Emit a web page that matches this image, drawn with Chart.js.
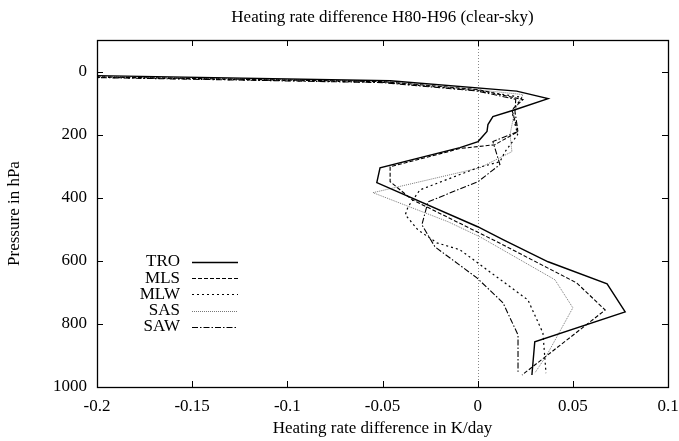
<!DOCTYPE html>
<html>
<head>
<meta charset="utf-8">
<script src="https://cdn.jsdelivr.net/npm/chart.js@4"></script>
<style>
  html, body { margin: 0; padding: 0; background: #fff; }
  #wrap { width: 679px; height: 441px; }
</style>
</head>
<body>
<div id="wrap"><canvas id="heatChart" width="679" height="441"></canvas></div>
<script>
// profile labels
const profiles = ["TRO", "MLS", "MLW", "SAS", "SAW"];

// heating rate difference (K/day) and pressure (hPa)
const troRate = [-0.21, -0.046, 0.0205, 0.037, 0.0196, 0.008, 0.0054, 0.0049, 0.0002, -0.0093, -0.0513, -0.053, 0.0, 0.0133, 0.037, 0.068, 0.0775, 0.030, 0.0285];
const troPres = [12, 29, 62, 86, 121, 143, 168, 190, 222, 241, 305, 352, 492, 533, 603, 673, 762, 857, 962];

const mlsRate = [-0.21, -0.05, 0.0, 0.0238, 0.018, 0.0212, 0.009, -0.0093, -0.046, -0.046, -0.0345, 0.008, 0.052, 0.067, 0.0233];
const mlsPres = [16, 32, 57, 89, 121, 190, 232, 244, 302, 349, 406, 533, 670, 756, 962];

const mlwRate = [-0.21, -0.05, 0.0, 0.0233, 0.018, 0.021, 0.0144, 0.0117, 0.0, -0.0303, -0.0366, -0.038, -0.0314, -0.0214, -0.0093, 0.0264, 0.0343, 0.0359];
const mlwPres = [17, 34, 60, 82, 127, 200, 254, 286, 305, 375, 429, 454, 502, 543, 565, 724, 829, 956];

const sasRate = [-0.21, -0.05, 0.0, 0.0238, 0.0196, 0.017, 0.018, 0.0012, -0.055, -0.0156, 0.0012, 0.0406, 0.050, 0.0364, 0.030];
const sasPres = [15, 31, 58, 73, 121, 200, 254, 305, 384, 476, 524, 660, 749, 898, 956];

const sawRate = [-0.21, -0.05, 0.0, 0.02, 0.0196, 0.0212, 0.008, 0.0117, 0.0002, -0.0261, -0.0293, -0.0224, -0.0004, 0.0133, 0.0212, 0.0212];
const sawPres = [18, 35, 62, 88, 127, 190, 222, 295, 349, 413, 486, 556, 654, 733, 835, 952];

const xTicks = [-0.2, -0.15, -0.1, -0.05, 0, 0.05, 0.1];
const yTicks = [0, 200, 400, 600, 800, 1000];

const titleText = "Heating rate difference H80-H96 (clear-sky)";

const serif = "'Liberation Serif', 'Times New Roman', serif";
const fontSize = 17;

const pts = (rate, pres) => rate.map((v, i) => ({ x: v, y: pres[i] }));

const styles = {
    TRO: { dash: [], color: "#000", width: 1.4 },
    MLS: { dash: [4, 2], color: "#000", width: 1.1 },
    MLW: { dash: [2, 3], color: "#000", width: 1.2 },
    SAS: { dash: [1, 1], color: "#777", width: 1 },
    SAW: { dash: [6, 2, 1.5, 2], color: "#000", width: 1.1 }
};

const series = [pts(troRate, troPres), pts(mlsRate, mlsPres), pts(mlwRate, mlwPres), pts(sasRate, sasPres), pts(sawRate, sawPres)];

const datasets = profiles.map((name, i) => ({
    label: name,
    data: series[i],
    borderColor: styles[name].color,
    borderWidth: styles[name].width,
    borderDash: styles[name].dash,
    pointRadius: 0,
    fill: false,
    tension: 0
}));

// frame, inward ticks (mirrored), zero axis, title and key
const gnuFrame = {
    id: "gnuFrame",
    beforeDatasetsDraw(chart) {
        const { ctx, chartArea: a, scales: { x } } = chart;
        const x0 = x.getPixelForValue(0);
        ctx.save();
        ctx.strokeStyle = "#888";
        ctx.lineWidth = 1;
        ctx.setLineDash([1, 2]);
        ctx.beginPath();
        ctx.moveTo(Math.round(x0) + 0.5, a.top);
        ctx.lineTo(Math.round(x0) + 0.5, a.bottom);
        ctx.stroke();
        ctx.restore();
    },
    afterDraw(chart) {
        const { ctx, chartArea: a, scales: { x, y } } = chart;
        const t = 6;
        ctx.save();
        ctx.strokeStyle = "#000";
        ctx.lineWidth = 1;
        ctx.setLineDash([]);
        ctx.beginPath();
        xTicks.forEach(v => {
            const px = Math.round(x.getPixelForValue(v)) + 0.5;
            ctx.moveTo(px, a.bottom); ctx.lineTo(px, a.bottom - t);
            ctx.moveTo(px, a.top); ctx.lineTo(px, a.top + t);
        });
        yTicks.forEach(v => {
            const py = Math.round(y.getPixelForValue(v)) + 0.5;
            ctx.moveTo(a.left, py); ctx.lineTo(a.left + t, py);
            ctx.moveTo(a.right, py); ctx.lineTo(a.right - t, py);
        });
        ctx.stroke();
        ctx.lineWidth = 1.3;
        ctx.strokeRect(Math.round(a.left) + 0.5, Math.round(a.top) + 0.5, Math.round(a.right - a.left), Math.round(a.bottom - a.top));

        ctx.font = fontSize + "px " + serif;
        ctx.fillStyle = "#000";
        ctx.textAlign = "center";
        ctx.textBaseline = "middle";
        ctx.fillText(titleText, (a.left + a.right) / 2, 18);

        // key
        ctx.textAlign = "right";
        chart.data.datasets.forEach((ds, i) => {
            const ky = 262 + i * 16.2;
            ctx.fillText(ds.label, 180, ky);
            ctx.strokeStyle = ds.borderColor;
            ctx.lineWidth = ds.borderWidth;
            ctx.setLineDash(ds.borderDash);
            ctx.beginPath();
            ctx.moveTo(192, Math.round(ky) + 0.5);
            ctx.lineTo(238, Math.round(ky) + 0.5);
            ctx.stroke();
        });
        ctx.restore();
    }
};

new Chart(document.getElementById("heatChart"), {
    type: "line",
    data: { datasets: datasets },
    options: {
        responsive: false,
        animation: false,
        layout: { padding: { left: 0, right: 0, top: 40, bottom: 0 } },
        plugins: {
            legend: { display: false },
            tooltip: { enabled: false },
            title: { display: false }
        },
        scales: {
            x: {
                type: "linear",
                min: -0.2,
                max: 0.1,
                afterBuildTicks: s => { s.ticks = xTicks.map(v => ({ value: v })); },
                afterFit: s => { s.height = 54; s.paddingLeft = 0; s.paddingRight = 11; },
                grid: { display: false, drawTicks: false },
                border: { display: false },
                ticks: {
                    color: "#000",
                    font: { family: serif, size: fontSize },
                    padding: 9,
                    maxRotation: 0,
                    callback: v => String(Math.round(v * 100) / 100)
                },
                title: {
                    display: true,
                    text: "Heating rate difference in K/day",
                    color: "#000",
                    font: { family: serif, size: fontSize },
                    padding: { top: 0, bottom: 2 }
                }
            },
            y: {
                type: "linear",
                reverse: true,
                min: -100,
                max: 1000,
                afterBuildTicks: s => { s.ticks = yTicks.map(v => ({ value: v })); },
                afterFit: s => { s.width = 97; s.paddingTop = 0; s.paddingBottom = 0; },
                grid: { display: false, drawTicks: false },
                border: { display: false },
                ticks: {
                    color: "#000",
                    font: { family: serif, size: fontSize },
                    padding: 10,
                    callback: v => String(v)
                },
                title: {
                    display: true,
                    text: "Pressure in hPa",
                    color: "#000",
                    font: { family: serif, size: fontSize },
                    padding: { top: 4, bottom: 0 }
                }
            }
        }
    },
    plugins: [gnuFrame]
});
</script>
</body>
</html>
